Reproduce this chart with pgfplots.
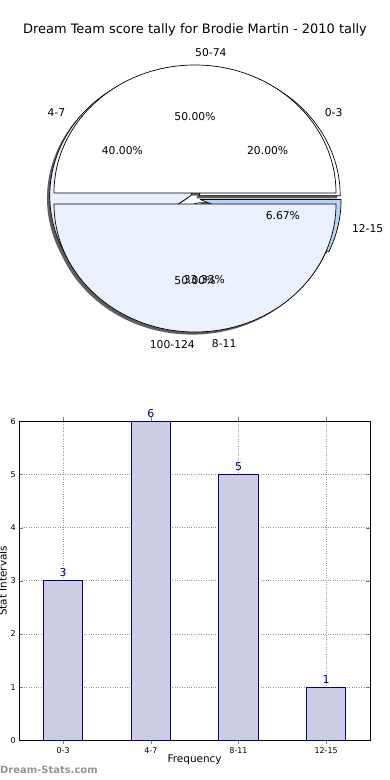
\documentclass[border=0pt]{standalone}
\usepackage{fontspec}
\setmainfont{DejaVu Sans}
\usepackage{pgfplots}
\pgfplotsset{compat=1.18}
\definecolor{barfill}{RGB}{204,204,228}
\definecolor{baredge}{RGB}{0,0,139}
\definecolor{lightblue}{RGB}{234,240,252}
\definecolor{midblue}{RGB}{184,211,246}
\definecolor{shadowgray}{RGB}{95,95,95}

% pie data: value/colour/label
\def\pieAdata{3/white/0-3,6/lightblue/4-7,5/lightblue/8-11,1/midblue/12-15}
\def\pieAtotal{15}
\def\pieBdata{1/white/50-74,1/lightblue/100-124}
\def\pieBtotal{2}

% #1 list macro, #2 total, #3 explode, #4 mode (0 shadow,1 wedge,2 text)
\newcommand\drawpie[4]{%
  \xdef\cum{0}%
  \foreach \v/\c/\l in #1{%
    \pgfmathsetmacro\a{\cum}%
    \pgfmathsetmacro\b{\cum+\v/#2*360}%
    \xdef\cum{\b}%
    \pgfmathsetmacro\m{(\a+\b)/2}%
    \pgfmathsetmacro\cx{#3*141*cos(\m)}%
    \pgfmathsetmacro\cy{#3*128*sin(\m)}%
    \ifcase#4\relax
      \pgfmathsetmacro\sx{\cx-2.8}%
      \pgfmathsetmacro\sy{\cy-2.6}%
      \pgfmathsetmacro\px{\sx+141*cos(\a)}%
      \pgfmathsetmacro\py{\sy+128*sin(\a)}%
      \edef\tmp{\noexpand\fill[shadowgray] (axis cs:\sx,\sy) -- (axis cs:\px,\py) arc[start angle=\a,end angle=\b,x radius=141bp,y radius=128bp] -- cycle;}\tmp
    \or
      \pgfmathsetmacro\px{\cx+141*cos(\a)}%
      \pgfmathsetmacro\py{\cy+128*sin(\a)}%
      \edef\tmp{\noexpand\filldraw[fill=\c,draw=black,line width=0.7bp,line join=round] (axis cs:\cx,\cy) -- (axis cs:\px,\py) arc[start angle=\a,end angle=\b,x radius=141bp,y radius=128bp] -- cycle;}\tmp
    \or
      \pgfmathsetmacro\lx{\cx+1.1*141*cos(\m)}%
      \pgfmathsetmacro\ly{\cy+1.1*128*sin(\m)}%
      \pgfmathsetmacro\tx{\cx+0.6*141*cos(\m)}%
      \pgfmathsetmacro\ty{\cy+0.6*128*sin(\m)}%
      \pgfmathsetmacro\pc{\v/#2*100}%
      \pgfmathparse{(cos(\m)<-0.001 || (abs(cos(\m))<=0.001 && sin(\m)<0)) ? 1 : 0}%
      \ifdim\pgfmathresult pt>0.5pt \def\anc{east}\else\def\anc{west}\fi
      \edef\tmp{\noexpand\node[anchor=\anc,inner sep=0pt,font=\noexpand\fontsize{10.8}{12}\noexpand\selectfont] at (axis cs:\lx,\ly) {\l};
        \noexpand\node[inner sep=0pt,font=\noexpand\fontsize{10.8}{12}\noexpand\selectfont] at (axis cs:\tx,\ty) {\noexpand\pgfmathprintnumber[fixed,fixed zerofill,precision=2,assume math mode=true]{\pc}\noexpand\%};}\tmp
    \fi
  }%
}

\begin{document}
\begin{tikzpicture}
\path[use as bounding box] (0,0) rectangle (390bp,780bp);

\node[font=\fontsize{13}{15}\selectfont] at (195bp,750bp) {Dream Team score tally for Brodie Martin - 2010 tally};

% ---- pie ----
\begin{axis}[hide axis, clip=false, x=1bp, y=1bp,
  xmin=-190, xmax=190, ymin=-160, ymax=160,
  anchor=origin, at={(195bp,581.5bp)}]
  \drawpie{\pieAdata}{\pieAtotal}{0.037}{0}
  \drawpie{\pieBdata}{\pieBtotal}{0.043}{0}
  \drawpie{\pieAdata}{\pieAtotal}{0.037}{1}
  \drawpie{\pieBdata}{\pieBtotal}{0.043}{1}
  \drawpie{\pieAdata}{\pieAtotal}{0.037}{2}
  \drawpie{\pieBdata}{\pieBtotal}{0.043}{2}
\end{axis}

% ---- bars ----
\begin{axis}[
  at={(19.3bp,39.7bp)}, anchor=south west,
  width=350.7bp, height=319bp, scale only axis,
  xmin=-0.5, xmax=3.5, ymin=0, ymax=6,
  xtick={0,1,2,3}, xticklabels={0-3,4-7,8-11,12-15},
  ytick={0,1,2,3,4,5,6},
  tick align=inside, major tick length=4bp,
  grid=major, grid style={dotted, black!40, line width=0.7bp},
  axis line style={line width=0.8bp},
  ticklabel style={font=\fontsize{8}{9}\selectfont},
  /pgf/number format/assume math mode=true,
  xlabel={Frequency}, ylabel={Stat Intervals},
  label style={font=\fontsize{10.5}{12}\selectfont},
  xlabel style={at={(axis description cs:0.5,-0.062)}, anchor=center},
  ylabel style={at={(axis description cs:-0.047,0.5)}, anchor=center},
  clip=false, ybar, bar width=0.45,
]
\addplot[ybar, fill=barfill, draw=baredge, line width=0.8bp,
  nodes near coords,
  nodes near coords style={text=baredge, font=\fontsize{11}{12}\selectfont}]
  coordinates {(0,3) (1,6) (2,5) (3,1)};
\end{axis}

\node[anchor=west, inner sep=0pt, text=black!42, font=\bfseries\fontsize{10}{12}\selectfont] at (0,10bp) {Dream-Stats.com};
\end{tikzpicture}
\end{document}
